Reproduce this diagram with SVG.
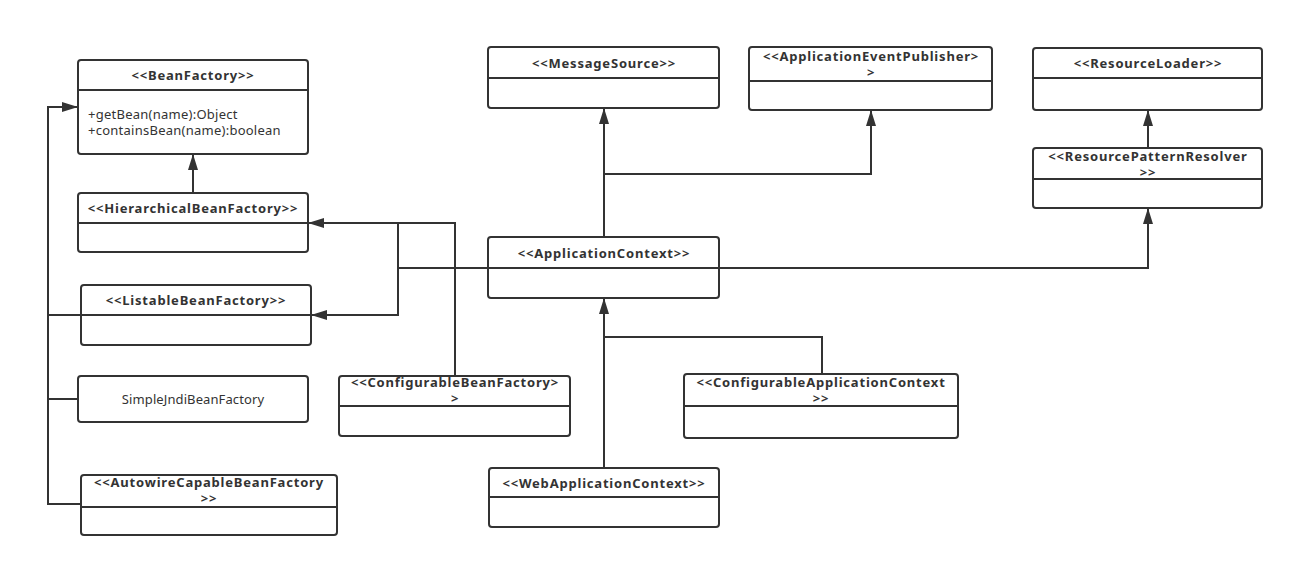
<svg xmlns="http://www.w3.org/2000/svg" width="1295" height="567" viewBox="0 0 1295 567">
  <style>
    .box { fill: #ffffff; stroke: #333333; stroke-width: 2; }
    .div { stroke: #333333; stroke-width: 2; }
    .title { font-family: "Noto Sans", "Open Sans", sans-serif; font-size: 13px; font-weight: bold; letter-spacing: 0.8px; fill: #333333; text-anchor: middle; }
    .member { font-family: "Noto Sans", "Open Sans", sans-serif; font-size: 13px; letter-spacing: 0.25px; fill: #333333; }
    .plain { font-family: "Noto Sans", "Open Sans", sans-serif; font-size: 13px; letter-spacing: 0.1px; fill: #333333; text-anchor: middle; }
    .wire { fill: none; stroke: #333333; stroke-width: 2; }
    .gen { fill: none; stroke: #333333; stroke-width: 2; marker-end: url(#tri); }
  </style>
  <defs>
    <marker id="tri" markerUnits="userSpaceOnUse" markerWidth="16" markerHeight="10" refX="16" refY="5" orient="auto">
      <path d="M0,0 L16,5 L0,10 Z" fill="#333333"/>
    </marker>
  </defs>
  <rect width="1295" height="567" fill="#ffffff"/>

  <!-- connectors -->
  <g id="connectors">
    <!-- HierarchicalBeanFactory extends BeanFactory -->
    <path class="gen" d="M193,193 V154"/>
    <!-- left bus into BeanFactory -->
    <path class="gen" d="M81,504 H48 V107 H78"/>
    <path class="wire" d="M81,315 H48"/>
    <path class="wire" d="M78,399 H48"/>
    <!-- ConfigurableBeanFactory extends HierarchicalBeanFactory -->
    <path class="gen" d="M455,376 V223 H308"/>
    <!-- ApplicationContext extends Hierarchical / Listable -->
    <path class="wire" d="M488,268 H398 V223"/>
    <path class="gen" d="M398,268 V315 H311"/>
    <!-- ApplicationContext extends MessageSource / ApplicationEventPublisher -->
    <path class="gen" d="M604,237 V108"/>
    <path class="gen" d="M604,174 H871 V110"/>
    <!-- ApplicationContext extends ResourcePatternResolver -->
    <path class="gen" d="M719,268 H1148 V208"/>
    <!-- ResourcePatternResolver extends ResourceLoader -->
    <path class="gen" d="M1148,148 V110"/>
    <!-- WebApplicationContext / ConfigurableApplicationContext extend ApplicationContext -->
    <path class="gen" d="M604,468 V298"/>
    <path class="wire" d="M822,374 V337 H604"/>
  </g>

  <g id="BeanFactory">
    <rect class="box" x="78" y="60" width="230" height="94" rx="3"/>
    <line class="div" x1="78" y1="90" x2="308" y2="90"/>
    <text class="title" x="193" y="80">&lt;&lt;BeanFactory&gt;&gt;</text>
    <text class="member" x="88" y="119">+getBean(name):Object</text>
    <text class="member" x="88" y="135">+containsBean(name):boolean</text>
  </g>

  <g id="HierarchicalBeanFactory">
    <rect class="box" x="78" y="193" width="230" height="59" rx="3"/>
    <line class="div" x1="78" y1="223" x2="308" y2="223"/>
    <text class="title" x="193" y="213">&lt;&lt;HierarchicalBeanFactory&gt;&gt;</text>
  </g>

  <g id="ListableBeanFactory">
    <rect class="box" x="81" y="285" width="230" height="60" rx="3"/>
    <line class="div" x1="81" y1="315" x2="311" y2="315"/>
    <text class="title" x="196" y="305">&lt;&lt;ListableBeanFactory&gt;&gt;</text>
  </g>

  <g id="SimpleJndiBeanFactory">
    <rect class="box" x="78" y="376" width="230" height="46" rx="3"/>
    <text class="plain" x="193" y="404">SimpleJndiBeanFactory</text>
  </g>

  <g id="AutowireCapableBeanFactory">
    <rect class="box" x="81" y="475" width="256" height="60" rx="3"/>
    <line class="div" x1="81" y1="507" x2="337" y2="507"/>
    <text class="title"><tspan x="209" y="487">&lt;&lt;AutowireCapableBeanFactory</tspan><tspan x="209" y="503">&gt;&gt;</tspan></text>
  </g>

  <g id="ConfigurableBeanFactory">
    <rect class="box" x="339" y="376" width="231" height="60" rx="3"/>
    <line class="div" x1="339" y1="406" x2="570" y2="406"/>
    <text class="title"><tspan x="455" y="387">&lt;&lt;ConfigurableBeanFactory&gt;</tspan><tspan x="455" y="403">&gt;</tspan></text>
  </g>

  <g id="MessageSource">
    <rect class="box" x="488" y="47" width="231" height="61" rx="3"/>
    <line class="div" x1="488" y1="78" x2="719" y2="78"/>
    <text class="title" x="604" y="68">&lt;&lt;MessageSource&gt;&gt;</text>
  </g>

  <g id="ApplicationEventPublisher">
    <rect class="box" x="749" y="47" width="243" height="63" rx="3"/>
    <line class="div" x1="749" y1="81" x2="992" y2="81"/>
    <text class="title"><tspan x="871" y="61">&lt;&lt;ApplicationEventPublisher&gt;</tspan><tspan x="871" y="77">&gt;</tspan></text>
  </g>

  <g id="ResourceLoader">
    <rect class="box" x="1033" y="48" width="229" height="62" rx="3"/>
    <line class="div" x1="1033" y1="78" x2="1262" y2="78"/>
    <text class="title" x="1148" y="68">&lt;&lt;ResourceLoader&gt;&gt;</text>
  </g>

  <g id="ResourcePatternResolver">
    <rect class="box" x="1033" y="148" width="229" height="60" rx="3"/>
    <line class="div" x1="1033" y1="179" x2="1262" y2="179"/>
    <text class="title"><tspan x="1148" y="161">&lt;&lt;ResourcePatternResolver</tspan><tspan x="1148" y="177">&gt;&gt;</tspan></text>
  </g>

  <g id="ApplicationContext">
    <rect class="box" x="488" y="237" width="231" height="61" rx="3"/>
    <line class="div" x1="488" y1="268" x2="719" y2="268"/>
    <text class="title" x="604" y="258">&lt;&lt;ApplicationContext&gt;&gt;</text>
  </g>

  <g id="ConfigurableApplicationContext">
    <rect class="box" x="684" y="374" width="274" height="64" rx="3"/>
    <line class="div" x1="684" y1="406" x2="958" y2="406"/>
    <text class="title"><tspan x="821" y="387">&lt;&lt;ConfigurableApplicationContext</tspan><tspan x="821" y="403">&gt;&gt;</tspan></text>
  </g>

  <g id="WebApplicationContext">
    <rect class="box" x="489" y="468" width="230" height="59" rx="3"/>
    <line class="div" x1="489" y1="497" x2="719" y2="497"/>
    <text class="title" x="604" y="488">&lt;&lt;WebApplicationContext&gt;&gt;</text>
  </g>
</svg>
